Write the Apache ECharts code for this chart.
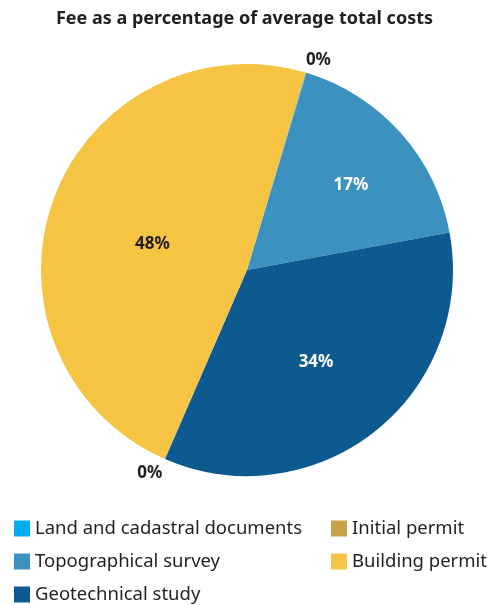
<!DOCTYPE html>
<html><head><meta charset="utf-8">
<script src="https://cdn.jsdelivr.net/npm/echarts@6/dist/echarts.min.js"></script>
<style>html,body{margin:0;padding:0;background:#fff}#c{width:489px;height:605px}</style>
</head><body><div id="c"></div>
<script>
const categories = ['Land and cadastral documents','Topographical survey','Geotechnical study','Initial permit','Building permit'];
const values = [0.05, 17.4, 34.4, 0.05, 48.0];
const colors = ['#00aeef','#3b92bf','#0d5a91','#c8a24a','#f5c443'];
const labelColors = ['#231f20','#ffffff','#ffffff','#231f20','#231f20'];
const labelOffsets = [[-7,-7],[25,-14],[3,9],[5,9],[5,11]];

const chart = echarts.init(document.getElementById('c'));
const FONT = '"Noto Sans", "Open Sans", sans-serif';
const data = categories.map((n,i)=>{
  const small = values[i] < 1;
  return {
    name: n, value: values[i],
    itemStyle: {color: colors[i]},
    label: small ? {position:'outside', color: labelColors[i], distance: 6, offset: labelOffsets[i]}
                 : {position:'inside', color: labelColors[i], offset: labelOffsets[i]},
    labelLine: {show:false, length:6, length2:0}
  };
});
const legendText = {fontFamily:FONT, fontSize:18.5, color:'#231f20'};
chart.setOption({
  animation:false,
  title:{text:'Fee as a percentage of average total costs', left:'center', top:5,
    textStyle:{fontFamily:FONT, fontWeight:'bold', fontSize:18, color:'#231f20'}},
  legend:[
    {data:categories.slice(0,3), orient:'vertical', left:9, top:514, height:100, itemWidth:16, itemHeight:16, itemGap:14,
     icon:'rect', textStyle:legendText},
    {data:[categories[3],categories[4]], orient:'vertical', left:326, top:514, height:100, itemWidth:16, itemHeight:16, itemGap:14,
     icon:'rect', textStyle:legendText}
  ],
  series:[{
    type:'pie', center:[247,270], radius:206, startAngle:73.4, clockwise:true,
    avoidLabelOverlap:false,
    label:{show:true, formatter:p=>Math.round(p.percent)+'%', fontFamily:FONT, fontWeight:'bold', fontSize:17},
    itemStyle:{borderWidth:0},
    emphasis:{disabled:true},
    data:data
  }]
});
</script></body></html>
